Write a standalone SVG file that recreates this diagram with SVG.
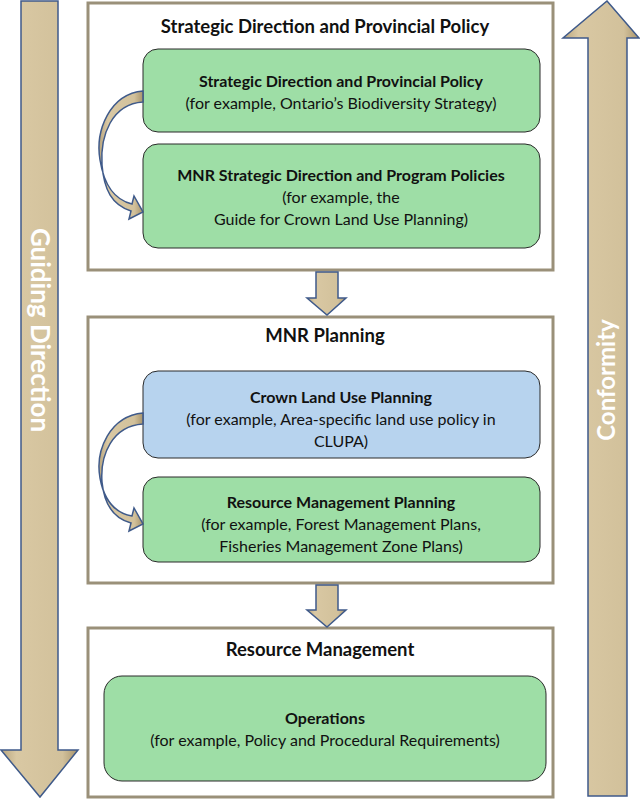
<svg xmlns="http://www.w3.org/2000/svg" width="640" height="800" viewBox="0 0 640 800">
<defs>
<linearGradient id="tan" x1="0" y1="0" x2="1" y2="0">
<stop offset="0" stop-color="#b8a57e"/><stop offset="0.2" stop-color="#d9c8a3"/><stop offset="0.8" stop-color="#d2c19b"/><stop offset="1" stop-color="#a8946c"/>
</linearGradient>
<style>
.frame{fill:#fff;stroke:#9a9079;stroke-width:3}
.g{fill:#9edea6;stroke:#2a2a2a;stroke-width:1}
.b{fill:#b7d3ee;stroke:#2a2a2a;stroke-width:1}
.arr{fill:url(#tan);stroke:#3f5a8a;stroke-width:1.5}
text{font-family:Lato,"Open Sans",sans-serif;fill:#111;text-anchor:middle}
.t{font-size:18.5px;font-weight:bold}
.h{font-size:16px;font-weight:bold}
.n{font-size:16px}
.v{font-size:26px;font-weight:bold;fill:#fff}
.v2{font-size:24px;font-weight:bold;fill:#fff}
</style>
</defs>
<g id="guiding">
<path class="arr" d="M21,1 H58 V750 H78 L40,797 L1,750 H21 Z"/>
<text class="v" transform="translate(40,330) rotate(90)" dy="9">Guiding Direction</text>
</g>
<g id="conformity">
<path class="arr" d="M588,796 V38 H563 L607,1 L639,38 H627 V796 Z"/>
<text class="v2" transform="translate(607,380) rotate(-90)" dy="8">Conformity</text>
</g>
<g id="frame1">
<rect class="frame" x="88" y="3" width="465" height="267"/>
<text class="t" x="325" y="33">Strategic Direction and Provincial Policy</text>
</g>
<g id="box1">
<rect class="g" x="143" y="49" width="397" height="83" rx="15"/>
<text class="h" x="341" y="87">Strategic Direction and Provincial Policy</text>
<text class="n" x="341" y="109">(for example, Ontario’s Biodiversity Strategy)</text>
</g>
<g id="box2">
<rect class="g" x="143" y="144" width="397" height="104" rx="15"/>
<text class="h" x="341" y="181">MNR Strategic Direction and Program Policies</text>
<text class="n" x="341" y="203">(for example, the</text>
<text class="n" x="341" y="225">Guide for Crown Land Use Planning)</text>
</g>
<g id="frame2">
<rect class="frame" x="88" y="317" width="465" height="266"/>
<text class="t" x="325" y="342">MNR Planning</text>
</g>
<g id="box3">
<rect class="b" x="143" y="371" width="397" height="87" rx="15"/>
<text class="h" x="341" y="403">Crown Land Use Planning</text>
<text class="n" x="341" y="425">(for example, Area-specific land use policy in</text>
<text class="n" x="341" y="447">CLUPA)</text>
</g>
<g id="box4">
<rect class="g" x="143" y="477" width="397" height="85" rx="15"/>
<text class="h" x="341" y="508">Resource Management Planning</text>
<text class="n" x="341" y="530">(for example, Forest Management Plans,</text>
<text class="n" x="341" y="552">Fisheries Management Zone Plans)</text>
</g>
<g id="frame3">
<rect class="frame" x="88" y="628" width="465" height="169"/>
<text class="t" x="320" y="656">Resource Management</text>
</g>
<g id="box5">
<rect class="g" x="104" y="676" width="442" height="105" rx="18"/>
<text class="h" x="325" y="724">Operations</text>
<text class="n" x="325" y="746">(for example, Policy and Procedural Requirements)</text>
</g>
<g id="connectors">
<path class="arr" d="M316,272 H338 V298 H346 L327,315 L307,298 H316 Z"/>
<path class="arr" d="M316,585 H338 V610 H346 L327,627 L307,610 H316 Z"/>
<path class="arr" d="M143,91 C110,94 95,130 100,160 C104,185 115,200 132,204 L134,196 L143,212 L129,219 L131,211 C112,205 104,190 102,165 C100,135 112,104 143,102 Z"/>
<path class="arr" d="M143,413 C110,416 95,450 100,478 C104,500 115,513 132,516 L134,508 L143,524 L129,531 L131,523 C112,518 104,503 102,482 C100,455 112,426 143,424 Z"/>
</g>
</svg>
